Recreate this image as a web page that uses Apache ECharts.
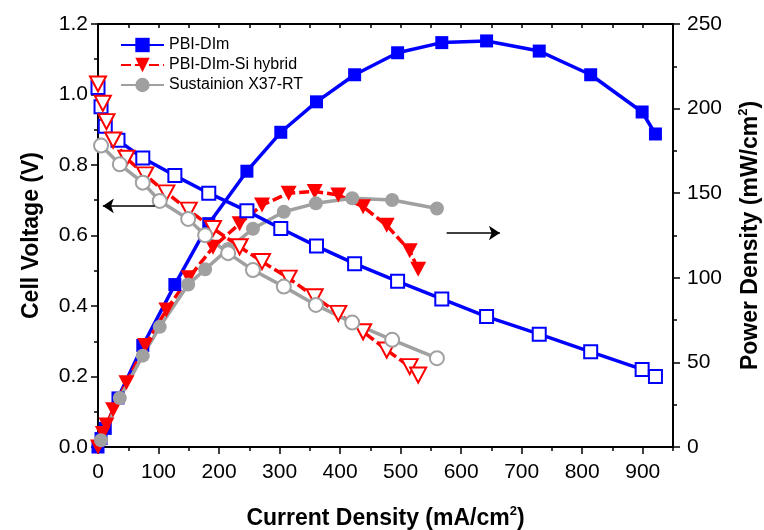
<!DOCTYPE html>
<html>
<head>
<meta charset="utf-8">
<script src="https://cdn.jsdelivr.net/npm/echarts@6/dist/echarts.min.js"></script>
<style>
  html, body { margin: 0; padding: 0; background: #fff; }
  #chart { width: 764px; height: 530px; }
</style>
</head>
<body>
<div id="chart"></div>
<script>
// current density (mA/cm2), voltage (V), power density (mW/cm2)
var dimI = [0, 5, 12, 33, 74, 127, 183, 246, 302, 361, 424, 495, 568, 642, 729, 814, 899, 921];
var dimV = [1.02, 0.965, 0.91, 0.87, 0.82, 0.77, 0.72, 0.67, 0.62, 0.57, 0.52, 0.47, 0.42, 0.37, 0.32, 0.27, 0.22, 0.20];
var dimP = [0, 5, 11, 29, 60, 96, 132, 163, 186, 204, 220, 233, 239, 240, 234, 220, 198, 185];

var siI = [0, 8, 14, 25, 47, 78, 113, 150, 190, 234, 271, 315, 358, 397, 438, 477, 515, 529];
var siV = [1.03, 0.975, 0.923, 0.871, 0.819, 0.772, 0.721, 0.672, 0.62, 0.568, 0.526, 0.479, 0.426, 0.379, 0.327, 0.275, 0.228, 0.204];
var siP = [0, 8, 13, 22, 38, 60, 81, 100, 118, 132, 143, 150, 151, 149, 142, 131, 116, 105];

var susI = [5, 36, 74, 102, 149, 177, 215, 256, 307, 360, 420, 486, 560];
var susV = [0.855, 0.802, 0.75, 0.698, 0.647, 0.601, 0.55, 0.502, 0.455, 0.403, 0.353, 0.304, 0.252];
var susP = [4, 29, 54, 71, 96, 105, 117, 129, 139, 144, 147, 146, 141];

var names = ["PBI-DIm", "PBI-DIm-Si hybrid", "Sustainion X37-RT"];

function pairs(xs, ys) {
  return xs.map(function (x, i) { return [x, ys[i]]; });
}

var FONT = "Liberation Sans, Arial, sans-serif";
var BLUE = "#0000ff", RED = "#ff0000", GRAY = "#a0a0a0";
var LW = 3.5;

var chart = echarts.init(document.getElementById("chart"));

var axisLine = { show: true, onZero: false, lineStyle: { color: "#000", width: 2 } };
var tickStyle = { color: "#000", width: 1.5 };
var nameRich = {
  t: { fontSize: 23, fontWeight: "bold", fontFamily: FONT, color: "#000", lineHeight: 28 },
  s: { fontSize: 13, fontWeight: "bold", fontFamily: FONT, color: "#000", lineHeight: 14, verticalAlign: "top" }
};

// axis that only draws short ticks (minor ticks / top frame)
function tickAxis(pos, min, max, step, len, inside, withLine) {
  return {
    type: "value", position: pos, min: min, max: max, interval: step,
    axisLine: withLine ? axisLine : { show: false, onZero: false },
    axisTick: { show: true, inside: inside, length: len, lineStyle: tickStyle },
    axisLabel: { show: false },
    splitLine: { show: false }
  };
}

var arrowLine = {
  silent: true, symbol: ["none", "arrow"], symbolSize: 11,
  label: { show: false },
  lineStyle: { color: "#000", width: 1.5, type: "solid" }
};

chart.setOption({
  animation: false,
  textStyle: { fontFamily: FONT },
  grid: { left: 98, right: 91, top: 24, bottom: 83, outerBoundsMode: "none" },
  legend: {
    orient: "vertical",
    left: 115,
    top: 32,
    itemWidth: 43,
    itemHeight: 18,
    itemGap: 4,
    data: names,
    textStyle: { fontSize: 16, color: "#000", fontFamily: FONT }
  },
  xAxis: [
    {
      type: "value", position: "bottom", min: 0, max: 950, interval: 100,
      name: "{t|Current Density (mA/cm}{s|2}{t|)}",
      nameLocation: "middle", nameGap: 58,
      nameTextStyle: { rich: nameRich },
      axisLine: axisLine,
      axisTick: { show: true, inside: false, length: 7, lineStyle: tickStyle },
      axisLabel: { fontSize: 21, color: "#000", margin: 15, showMaxLabel: false },
      splitLine: { show: false }
    },
    tickAxis("bottom", 0, 950, 50, 4, false, false),
    tickAxis("top", 0, 950, 50, 4, true, true)
  ],
  yAxis: [
    {
      type: "value", position: "left", min: 0, max: 1.2, interval: 0.2,
      name: "Cell Voltage (V)",
      nameLocation: "middle", nameRotate: 90, nameGap: 55,
      nameTextStyle: { fontSize: 23, fontWeight: "bold", color: "#000", fontFamily: FONT },
      axisLine: axisLine,
      axisTick: { show: true, inside: false, length: 7, lineStyle: tickStyle },
      axisLabel: { fontSize: 21, color: "#000", margin: 10, formatter: function (v) { return v.toFixed(1); } },
      splitLine: { show: false }
    },
    {
      type: "value", position: "right", min: 0, max: 250, interval: 50,
      name: "{t|Power Density (mW/cm}{s|2}{t|)}",
      nameLocation: "middle", nameRotate: 90, nameGap: 64,
      nameTextStyle: { rich: nameRich },
      axisLine: axisLine,
      axisTick: { show: true, inside: false, length: 7, lineStyle: tickStyle },
      axisLabel: { fontSize: 21, color: "#000", margin: 14 },
      splitLine: { show: false }
    },
    tickAxis("left", 0, 1.2, 0.1, 4, false, false),
    tickAxis("right", 0, 250, 25, 4, false, false)
  ],
  series: [
    // power density curves (filled markers)
    {
      name: names[0], type: "line", yAxisIndex: 1, data: pairs(dimI, dimP),
      symbol: "rect", symbolSize: 13,
      lineStyle: { color: BLUE, width: LW },
      itemStyle: { color: BLUE },
      markLine: Object.assign({ data: [[{ coord: [576, 126.5] }, { coord: [664, 126.5] }]] }, arrowLine)
    },
    {
      name: names[1], type: "line", yAxisIndex: 1, data: pairs(siI, siP),
      symbol: "triangle", symbolRotate: 180, symbolSize: [16, 15],
      lineStyle: { color: RED, width: LW, type: [10, 4] },
      itemStyle: { color: RED }
    },
    {
      name: names[2], type: "line", yAxisIndex: 1, data: pairs(susI, susP),
      symbol: "circle", symbolSize: 14,
      lineStyle: { color: GRAY, width: LW },
      itemStyle: { color: GRAY }
    },
    // voltage curves (open markers)
    {
      name: names[0], type: "line", yAxisIndex: 0, data: pairs(dimI, dimV),
      symbol: "emptyRect", symbolSize: 13,
      lineStyle: { color: BLUE, width: LW },
      itemStyle: { color: BLUE, borderWidth: 1 },
      markLine: Object.assign({ data: [[{ coord: [94, 0.684] }, { coord: [8, 0.684] }]] }, arrowLine)
    },
    {
      name: names[1], type: "line", yAxisIndex: 0, data: pairs(siI, siV),
      symbol: "emptyTriangle", symbolRotate: 180, symbolSize: [16, 15],
      lineStyle: { color: RED, width: LW, type: [10, 4] },
      itemStyle: { color: RED, borderWidth: 1 }
    },
    {
      name: names[2], type: "line", yAxisIndex: 0, data: pairs(susI, susV),
      symbol: "emptyCircle", symbolSize: 14,
      lineStyle: { color: GRAY, width: LW },
      itemStyle: { color: GRAY, borderWidth: 1 }
    }
  ]
});
</script>
</body>
</html>
